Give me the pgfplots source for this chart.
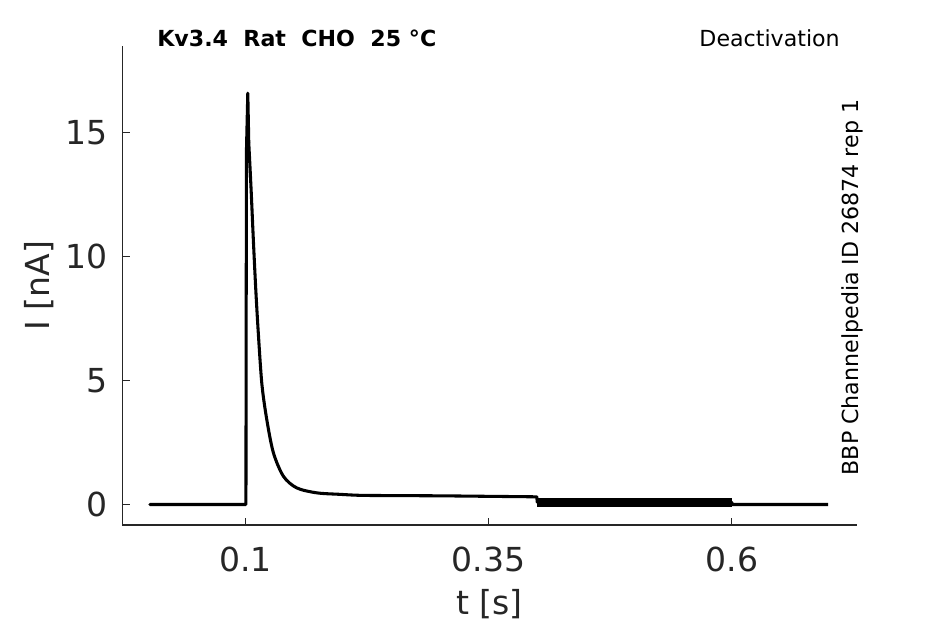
\documentclass[border=0pt]{standalone}
\usepackage{fontspec}
\setmainfont{DejaVu Sans}
\usepackage{pgfplots}
\pgfplotsset{compat=1.18}
\definecolor{axgray}{HTML}{262626}
\begin{document}
\begin{tikzpicture}
\path[use as bounding box] (0,0) rectangle (708.75pt,468pt);
\begin{axis}[
  at={(91.7pt,74.25pt)}, anchor=south west,
  scale only axis, width=551pt, height=359.1pt,
  xmin=-0.0265, xmax=0.7285, ymin=-0.827, ymax=18.495,
  axis x line*=bottom, axis y line*=left,
  axis line style={axgray, line width=0.8pt},
  tick style={axgray, line width=0.8pt},
  tick align=inside, major tick length=5.5pt,
  xtick={0.1,0.35,0.6}, xticklabels={0.1,0.35,0.6},
  ytick={0,5,10,15},
  /pgf/number format/assume math mode=true,
  ticklabel style={font=\fontsize{24.8}{28}\selectfont, text=axgray},
  xticklabel style={anchor=north, inner sep=0pt, yshift=-16.5pt},
  yticklabel style={anchor=east, inner sep=0pt, xshift=-11pt},
  xlabel={t [s]}, ylabel={I [nA]},
  label style={font=\fontsize{24.8}{28}\selectfont, text=axgray},
  xlabel style={at={(axis description cs:0.5,-0.1873)}, anchor=base},
  ylabel style={at={(axis description cs:-0.1134,0.5)}, anchor=center},
]
% baseline, rise and peak
\addplot[black, line width=2.3pt, line join=round, line cap=round] coordinates {
(0.002,0) (0.1006,0) (0.1008,7.0) (0.1012,14.4) (0.1025,16.6) (0.1035,14.6)
};
% decay
\addplot[black, line width=2.3pt, line join=round, line cap=round, smooth, tension=0.5] coordinates {
(0.1035,14.6) (0.1059,12.71) (0.1082,10.69) (0.1107,8.68) (0.1134,6.86) (0.1170,4.85)
(0.1220,3.43) (0.1288,2.09) (0.1391,1.14) (0.1528,0.67) (0.1734,0.47)
(0.1973,0.41) (0.2179,0.37) (0.25,0.36) (0.30,0.35) (0.35,0.33) (0.3995,0.31)
};
% later steps
\addplot[black, line width=2.3pt, line join=round] coordinates {
(0.3995,0.31) (0.4,0.09) (0.6,0.09) (0.6,0) (0.699,0)
};
\addplot[black, line width=6.75pt, line cap=butt] coordinates {
(0.4,0.09) (0.6,0.09)
};
\end{axis}
\node[anchor=base west, font=\bfseries\fontsize{16.6}{19}\selectfont, inner sep=0pt] at (117.75pt,433pt) {Kv3.4\ \ Rat\ \ CHO\ \ 25 °C};
\node[anchor=base east, font=\fontsize{16.6}{19}\selectfont, inner sep=0pt] at (630pt,433pt) {Deactivation};
\node[anchor=base, rotate=90, font=\fontsize{16.6}{19}\selectfont, inner sep=0pt] at (643.7pt,252.4pt) {BBP Channelpedia ID 26874 rep 1};
\end{tikzpicture}
\end{document}
